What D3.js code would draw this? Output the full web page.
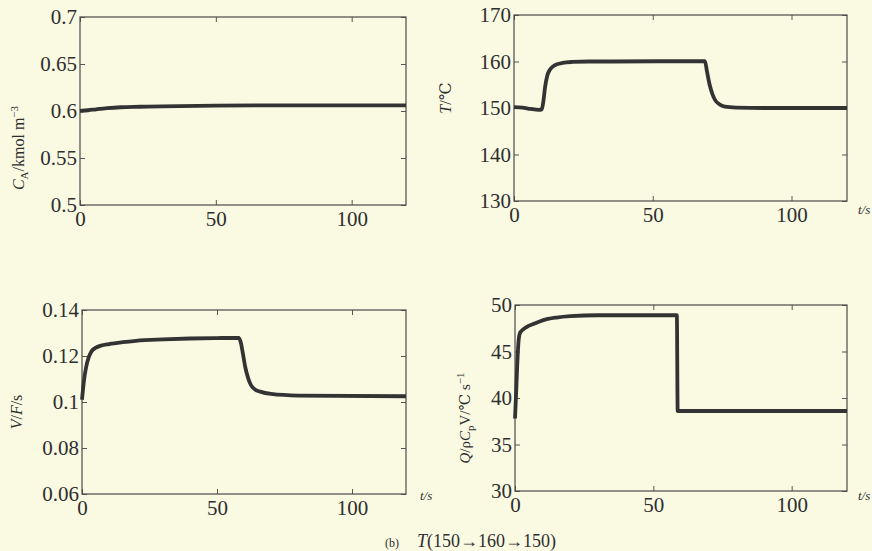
<!DOCTYPE html>
<html>
<head>
<meta charset="utf-8">
<script src="https://cdn.jsdelivr.net/npm/d3@7"></script>
<style>
  body { margin: 0; background: #fafae3; }
  svg { display: block; }
  text { font-family: "Liberation Serif", "DejaVu Serif", serif; fill: #2e2e2e; }
</style>
</head>
<body>
<div id="chart"></div>
<script>
const WIDTH = 872;
const HEIGHT = 551;
const INK = "#333";

// time ticks shared by all four panels
const timeTicks = [0, 50, 100];

// (a) concentration C_A
const caTime  = [0, 3, 6, 10, 15, 22, 30, 50, 80, 120];
const caValue = [0.600, 0.6008, 0.6018, 0.603, 0.604, 0.6045, 0.605, 0.6058, 0.606, 0.606];
const caTicks = [0.5, 0.55, 0.6, 0.65, 0.7];

// (b) temperature T
const tTime  = [0, 3, 6, 9, 10, 10.6, 11.2, 12, 13, 14, 15.5, 17.5, 21, 27, 35, 68.8, 69.5, 70.5, 71.5, 72.5, 74, 76, 80, 90, 120];
const tValue = [150.2, 150.1, 149.8, 149.6, 149.7, 151.5, 154.5, 157, 158.3, 158.9, 159.4, 159.7, 159.9, 160, 160, 160.1, 158, 155, 153, 151.7, 150.8, 150.3, 150.1, 150, 150];
const tTicks = [130, 140, 150, 160, 170];

// (c) residence time V/F
const vfTime  = [0, 0.7, 1.5, 2.5, 3.5, 5, 7, 10, 15, 20, 30, 40, 50, 58, 58.8, 59.6, 60.5, 61.5, 62.5, 64, 66, 70, 80, 120];
const vfValue = [0.101, 0.109, 0.115, 0.1195, 0.122, 0.1235, 0.1245, 0.1252, 0.126, 0.1266, 0.1272, 0.1276, 0.1278, 0.1279, 0.126, 0.121, 0.115, 0.1105, 0.1075, 0.1055, 0.1045, 0.1035, 0.1028, 0.1025];
const vfTicks = [0.06, 0.08, 0.1, 0.12, 0.14];

// (d) heat duty Q/(rho Cp V)
const qTime  = [0, 0.4, 0.8, 1.2, 1.7, 2.3, 4, 7, 10, 15, 20, 30, 58.5, 58.8, 70, 120];
const qValue = [37.8, 40.5, 43.5, 45.8, 46.9, 47.2, 47.6, 48, 48.35, 48.65, 48.8, 48.9, 48.9, 38.6, 38.6, 38.6];
const qTicks = [30, 35, 40, 45, 50];

const svg = d3.select("#chart")
  .append("svg")
  .attr("width", WIDTH)
  .attr("height", HEIGHT)

svg.append("rect")
  .attr("width", WIDTH)
  .attr("height", HEIGHT)
  .attr("fill", "#fafae3")

let drawPanel = (p) => {
  let x = d3.scaleLinear().domain([0, 120]).range([p.left, p.right])
  let y = d3.scaleLinear().domain(d3.extent(p.yTicks)).range([p.bottom, p.top])
  let g = svg.append("g")
  let fmt = d => String(d)

  // inward ticks on all four sides, MATLAB style
  let axes = [
    [d3.axisBottom(x).tickValues(timeTicks).tickFormat(fmt).tickPadding(6), `translate(0,${p.bottom})`],
    [d3.axisTop(x).tickValues(timeTicks).tickFormat(""), `translate(0,${p.top})`],
    [d3.axisLeft(y).tickValues(p.yTicks).tickFormat(fmt).tickPadding(3), `translate(${p.left},0)`],
    [d3.axisRight(y).tickValues(p.yTicks).tickFormat(""), `translate(${p.right},0)`]
  ]
  axes.forEach(([ax, tr]) => {
    let a = g.append("g")
      .attr("transform", tr)
      .call(ax.tickSizeInner(-5).tickSizeOuter(0))
    a.select(".domain").remove()
    a.selectAll("line").attr("stroke", "#555")
    a.selectAll("text")
      .style("font-family", '"Liberation Serif", serif')
      .style("font-size", "21px")
      .attr("fill", "#2e2e2e")
  })

  g.append("rect")
    .attr("x", p.left)
    .attr("y", p.top)
    .attr("width", p.right - p.left)
    .attr("height", p.bottom - p.top)
    .attr("fill", "none")
    .attr("stroke", "#4a4a4a")
    .attr("stroke-width", 1.2)

  let pts = p.time.map((t, i) => [t, p.value[i]])
  g.append("path")
    .datum(pts)
    .attr("fill", "none")
    .attr("stroke", INK)
    .attr("stroke-width", 3.8)
    .attr("stroke-linejoin", "round")
    .attr("d", d3.line()
      .x(d => x(d[0]))
      .y(d => y(d[1]))
      .curve(d3.curveMonotoneX))

  // rotated y label
  let lab = g.append("text")
    .attr("transform", `translate(${p.labelX},${p.labelY}) rotate(-90)`)
    .attr("text-anchor", "middle")
    .style("font-size", p.labelSize || "16px")
  p.label.forEach(([s, kind]) => {
    let ts = lab.append("tspan").text(s)
    if (kind == "i") ts.style("font-style", "italic")
    if (kind == "sub") ts.style("font-size", "11px").attr("dy", 4)
    if (kind == "up") ts.attr("dy", -4)
    if (kind == "sup") ts.style("font-size", "11px").attr("dy", -6)
  })

  if (p.tsX) {
    g.append("text")
      .attr("x", p.tsX)
      .attr("y", p.tsY)
      .style("font-size", "13px")
      .style("font-style", "italic")
      .text("t/s")
  }
}

drawPanel({
  left: 80, right: 406, top: 17, bottom: 205,
  time: caTime, value: caValue, yTicks: caTicks,
  labelX: 24, labelY: 148,
  label: [["C", "i"], ["A", "sub"], ["/kmol m", "up"], ["\u22123", "sup"]]
})

drawPanel({
  left: 514, right: 847, top: 15, bottom: 201,
  time: tTime, value: tValue, yTicks: tTicks,
  labelX: 451, labelY: 98,
  label: [["T", "i"], ["/\u2103", ""]],
  tsX: 858, tsY: 214
})

drawPanel({
  left: 82, right: 406, top: 310, bottom: 494,
  time: vfTime, value: vfValue, yTicks: vfTicks,
  labelX: 22, labelY: 412,
  label: [["V", "i"], ["/", ""], ["F", "i"], ["/s", ""]],
  tsX: 420, tsY: 500
})

drawPanel({
  left: 515, right: 847, top: 305, bottom: 491,
  time: qTime, value: qValue, yTicks: qTicks,
  labelX: 470, labelY: 418, labelSize: "15px",
  label: [["Q", "i"], ["/\u03c1", ""], ["C", "i"], ["p", "sub"], ["V", "up"], ["/\u2103 s", ""], ["\u22121", "sup"]],
  tsX: 858, tsY: 500
})

// caption
let cap = svg.append("text")
  .attr("x", 385)
  .attr("y", 547)
cap.append("tspan").text("(b)").style("font-size", "12px")
cap.append("tspan").attr("x", 417).text("T").style("font-size", "18px").style("font-style", "italic")
cap.append("tspan").text("(150\u2192160\u2192150)").style("font-size", "18px")
</script>
</body>
</html>
